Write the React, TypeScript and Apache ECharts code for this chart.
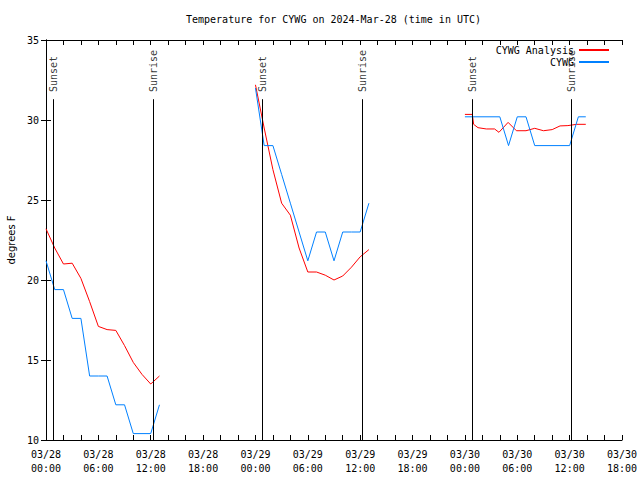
import React, { useEffect, useRef } from 'react';
import * as echarts from 'echarts';

const FONT = '"DejaVu Sans Mono", "Liberation Mono", monospace';

// Hours since 2024-03-28 00:00 UTC
const analysisDay1: [number, number][] = [
  [0, 23.2], [1, 22.0], [2, 21.0], [3, 21.05], [4, 20.1], [5, 18.65], [6, 17.1],
  [7, 16.9], [8, 16.85], [9, 15.9], [10, 14.85], [11, 14.1], [12, 13.5], [13, 14.0],
];
const analysisDay2: [number, number][] = [
  [24, 32.2], [25, 29.5], [26, 26.9], [27, 24.8], [28, 24.05], [29, 22.0], [30, 20.5],
  [31, 20.5], [32, 20.3], [33, 20.0], [34, 20.25], [35, 20.8], [36, 21.45], [37, 21.9],
];
const analysisDay3: [number, number][] = [
  [48, 30.35], [48.85, 30.35], [49, 29.73], [49.5, 29.52], [50.45, 29.44], [51.4, 29.44],
  [51.9, 29.23], [52.95, 29.85], [53.9, 29.33], [55, 29.33], [56, 29.48], [57, 29.33],
  [58, 29.4], [58.9, 29.63], [59.8, 29.65], [60.8, 29.73], [61.85, 29.73],
];

const obsDay1: [number, number][] = [
  [0, 21.2], [1, 19.4], [2, 19.4], [3, 17.6], [4, 17.6], [5, 14.0], [6, 14.0],
  [7, 14.0], [8, 12.2], [9, 12.2], [10, 10.4], [11, 10.4], [12, 10.4], [13, 12.2],
];
const obsDay2: [number, number][] = [
  [24, 32.0], [25, 28.4], [26, 28.4], [27, 26.6], [28, 24.8], [29, 23.0], [30, 21.2],
  [31, 23.0], [32, 23.0], [33, 21.2], [34, 23.0], [35, 23.0], [36, 23.0], [37, 24.8],
];
const obsDay3: [number, number][] = [
  [48, 30.2], [52, 30.2], [53, 28.4], [54, 30.2], [55, 30.2], [56, 28.4],
  [60, 28.4], [61, 30.2], [61.85, 30.2],
];

const sunTimes = [0.84, 12.32, 24.79, 36.29, 48.85, 60.22];
const sunLabels = ['Sunset', 'Sunrise', 'Sunset', 'Sunrise', 'Sunset', 'Sunrise'];
const sunLineTop = 31.3;
const sunLabelBase = 31.75;

const xMin = 0;
const xMax = 66;
const xTickStep = 2;
const xLabelStep = 6;
const yMin = 10;
const yMax = 35;
const yStep = 5;

function joinSegments(segs: [number, number][][]): any[] {
  const out: any[] = [];
  segs.forEach((s, i) => {
    if (i > 0) out.push([s[0][0] - 1, '-']);
    s.forEach((p) => out.push(p));
  });
  return out;
}

function pad(n: number) {
  return n < 10 ? '0' + n : '' + n;
}

export default function App() {
  const ref = useRef<HTMLDivElement>(null);
  useEffect(() => {
    const chart = echarts.init(ref.current!, null, { renderer: 'svg' });
    const txt = { fontFamily: FONT, fontSize: 10, color: '#000' };
    const axisLine = { show: true, lineStyle: { color: '#000', width: 1 } };
    chart.setOption({
      animation: false,
      backgroundColor: '#fff',
      title: {
        text: 'Temperature for CYWG on 2024-Mar-28 (time in UTC)',
        left: 186,
        top: 14,
        padding: 0,
        textStyle: { ...txt, fontWeight: 'normal' },
      },
      legend: {
        data: ['CYWG Analysis', 'CYWG'],
        orient: 'vertical',
        align: 'right',
        right: 30,
        top: 45,
        padding: 0,
        itemWidth: 30,
        itemHeight: 2,
        itemGap: 2,
        textStyle: txt,
      },
      grid: {
        left: 46,
        right: 18,
        top: 40,
        bottom: 40,
        containLabel: false,
        outerBoundsMode: 'none',
      },
      xAxis: [
        {
          type: 'value',
          min: xMin,
          max: xMax,
          interval: xTickStep,
          position: 'bottom',
          axisLine,
          axisTick: { show: true, inside: true, length: 5, lineStyle: { color: '#000' } },
          splitLine: { show: false },
          axisLabel: {
            ...txt,
            margin: 7,
            lineHeight: 14,
            formatter: (v: number) => {
              if (v % xLabelStep !== 0) return '';
              const day = 28 + Math.floor(v / 24);
              return '03/' + day + '\n' + pad(v % 24) + ':00';
            },
          },
        },
        {
          type: 'value',
          min: xMin,
          max: xMax,
          interval: xTickStep,
          position: 'top',
          axisLine,
          axisTick: { show: true, inside: true, length: 5, lineStyle: { color: '#000' } },
          splitLine: { show: false },
          axisLabel: { show: false },
        },
      ],
      yAxis: [
        {
          type: 'value',
          min: yMin,
          max: yMax,
          interval: yStep,
          position: 'left',
          name: 'degrees F',
          nameLocation: 'middle',
          nameGap: 30,
          nameTextStyle: { fontFamily: 'DejaVu Sans', fontSize: 10, color: '#000' },
          axisLine,
          axisTick: { show: true, inside: true, length: 5, lineStyle: { color: '#000' } },
          splitLine: { show: false },
          axisLabel: { ...txt, margin: 7 },
        },
        {
          type: 'value',
          min: yMin,
          max: yMax,
          interval: yStep,
          position: 'right',
          axisLine,
          axisTick: { show: true, inside: true, length: 5, lineStyle: { color: '#000' } },
          splitLine: { show: false },
          axisLabel: { show: false },
        },
      ],
      series: [
        {
          type: 'scatter',
          name: 'sun',
          silent: true,
          symbolSize: 1,
          itemStyle: { color: 'rgba(0,0,0,0)' },
          data: sunTimes.map((t, i) => [t, sunLabelBase, sunLabels[i]]),
          label: {
            show: true,
            position: 'inside',
            align: 'left',
            verticalAlign: 'middle',
            rotate: 90,
            formatter: (p: any) => p.value[2],
            ...txt,
          },
          markLine: {
            silent: true,
            symbol: ['none', 'none'],
            label: { show: false },
            lineStyle: { color: '#000', width: 1, type: 'solid' },
            data: sunTimes.map((t) => [{ coord: [t, yMin] }, { coord: [t, sunLineTop] }]),
          },
        },
        {
          type: 'line',
          name: 'CYWG Analysis',
          symbol: 'none',
          connectNulls: false,
          lineStyle: { color: '#ff0000', width: 1 },
          itemStyle: { color: '#ff0000' },
          data: joinSegments([analysisDay1, analysisDay2, analysisDay3]),
        },
        {
          type: 'line',
          name: 'CYWG',
          symbol: 'none',
          connectNulls: false,
          lineStyle: { color: '#0080ff', width: 1 },
          itemStyle: { color: '#0080ff' },
          data: joinSegments([obsDay1, obsDay2, obsDay3]),
        },
      ],
    });
    return () => chart.dispose();
  }, []);
  return (
    <div
      ref={ref}
      style={{ position: 'fixed', left: 0, top: 0, width: 640, height: 480 }}
    />
  );
}
